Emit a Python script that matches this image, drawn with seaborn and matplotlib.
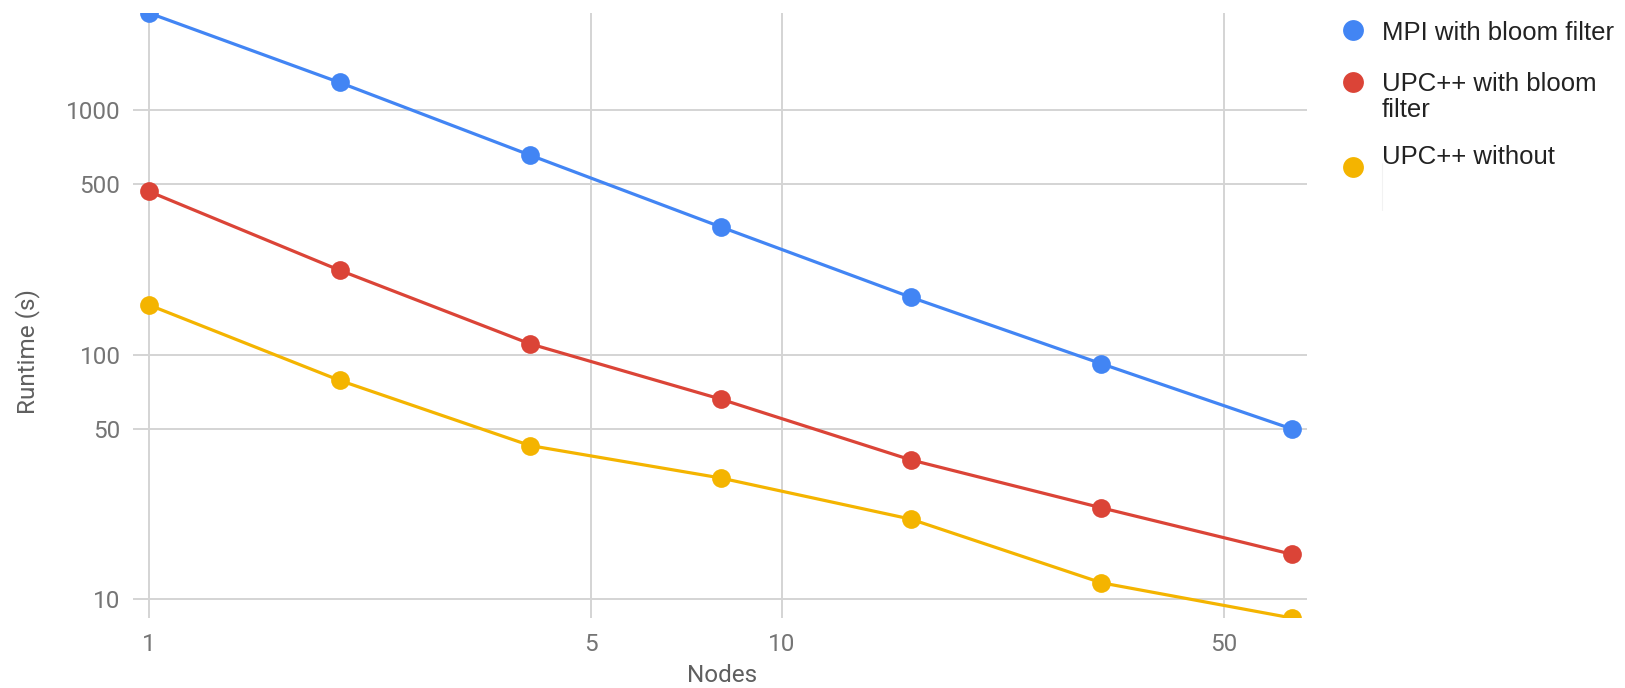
import numpy as np
import pandas as pd
import matplotlib
matplotlib.use("Agg")
import matplotlib.pyplot as plt
from matplotlib.lines import Line2D
from matplotlib.path import Path
from matplotlib.ticker import FixedLocator, FixedFormatter, NullLocator
import seaborn as sns

# Runtime scaling data (seconds) per node count
nodes = [1, 2, 4, 8, 16, 32, 64]
mpi_bloom = [2500, 1300, 656, 334, 172, 92, 49.8]
upc_bloom = [466, 222, 111, 66, 37.2, 23.7, 15.3]
upc_without = [160, 78.7, 42.6, 31.4, 21.3, 11.7, 8.4]

series_names = ["MPI with bloom filter", "UPC++ with bloom\nfilter", "UPC++ without"]
series_colors = ["#4285F4", "#DB4437", "#F4B400"]

x_ticks = [1, 5, 10, 50]
y_ticks = [10, 50, 100, 500, 1000]

df = pd.DataFrame({
    "Nodes": nodes * 3,
    "Runtime": mpi_bloom + upc_bloom + upc_without,
    "Series": sum([[n] * len(nodes) for n in series_names], []),
})

sns.set_theme(style="white")
plt.rcParams["font.family"] = ["Roboto", "DejaVu Sans"]

W, H = 1625, 688
fig = plt.figure(figsize=(W / 100, H / 100), dpi=100)
ax = fig.add_axes([133 / W, 1 - 618 / H, (1307 - 133) / W, (618 - 13) / H])
ax.set_xscale("log")
ax.set_yscale("log")

# grid first so the lines sit underneath
for xv in x_ticks:
    ax.axvline(xv, color="#d4d4d4", lw=1.4, zorder=0)
for yv in y_ticks:
    ax.axhline(yv, color="#d4d4d4", lw=1.4, zorder=0)

sns.lineplot(data=df, x="Nodes", y="Runtime", hue="Series",
             palette=dict(zip(series_names, series_colors)),
             hue_order=series_names, marker="o", markersize=13.5,
             markeredgewidth=0, linewidth=2.3, legend=False, ax=ax,
             zorder=3)

# clip markers to the plotting area with a real path, so the extreme
# points are cut in half at the edges
for ln in ax.lines:
    ln.set_clip_path(Path.unit_rectangle(), ax.transAxes)

all_vals = mpi_bloom + upc_bloom + upc_without
ax.set_ylim(min(all_vals), max(all_vals))
ax.set_xlim(nodes[0] / 10 ** (16 / 632.7), nodes[-1] * 10 ** (15 / 632.7))

ax.xaxis.set_major_locator(FixedLocator(x_ticks))
ax.xaxis.set_major_formatter(FixedFormatter([str(v) for v in x_ticks]))
ax.xaxis.set_minor_locator(NullLocator())
ax.yaxis.set_major_locator(FixedLocator(y_ticks))
ax.yaxis.set_major_formatter(FixedFormatter([str(v) for v in y_ticks]))
ax.yaxis.set_minor_locator(NullLocator())
ax.tick_params(axis="both", length=0, labelsize=17.5, labelcolor="#757575")
ax.tick_params(axis="x", pad=11)
ax.tick_params(axis="y", pad=9)

for s in ax.spines.values():
    s.set_visible(False)

ax.set_xlabel("Nodes", fontsize=17.5, color="#5f5f5f")
ax.set_ylabel("Runtime (s)", fontsize=17.5, color="#5f5f5f")
ax.xaxis.set_label_coords((722 - 133) / 1174, (618 - 676) / 605)
ax.yaxis.set_label_coords((28 - 133) / 1174, (618 - 352) / 605)
ax.xaxis.label.set_va("center")
ax.yaxis.label.set_va("center")

# legend on the right
marker_y = [30, 82, 167]
text_y = [33, 97, 157]
for name, col, my, ty in zip(series_names, series_colors, marker_y, text_y):
    fig.add_artist(Line2D([1353 / W], [1 - my / H], marker="o", markersize=15,
                          markeredgewidth=0, color=col, transform=fig.transFigure))
    fig.text(1382 / W, 1 - ty / H, name, fontsize=18.5, color="#222222",
             family=["Liberation Sans", "DejaVu Sans"], va="center",
             ha="left", linespacing=1.1)
fig.add_artist(Line2D([1382 / W, 1382 / W], [1 - 163 / H, 1 - 210 / H],
                      color="#f2f2f2", lw=0.8, transform=fig.transFigure))

fig.savefig("out.png", dpi=100)
